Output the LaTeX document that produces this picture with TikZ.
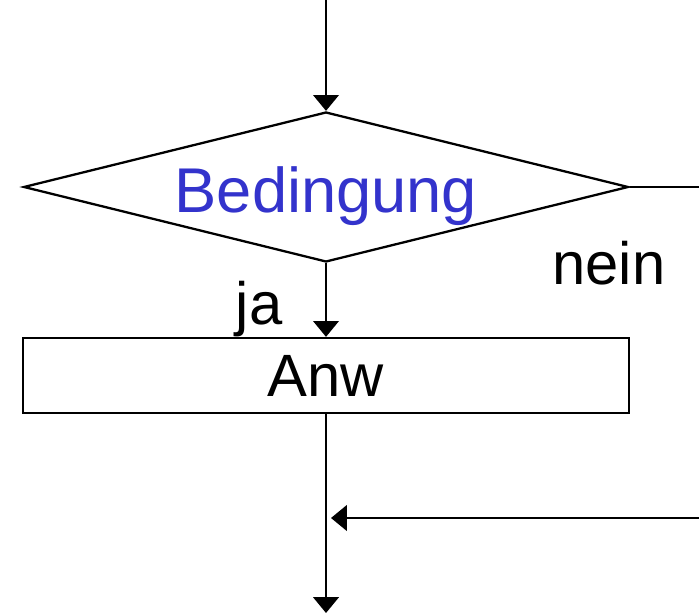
\documentclass[tikz,border=0pt]{standalone}
\usepackage{fontspec}
\setmainfont{Liberation Sans}
\usepackage{tikz}
\usetikzlibrary{arrows.meta, shapes.geometric}
\definecolor{condblue}{RGB}{51,51,204}
\tikzset{
    flowline/.style={line width=1.3pt},
    flowarrow/.style={flowline, -{Triangle[length=9pt,width=14.5pt]}},
    bigtext/.style={font=\fontsize{34}{40}\selectfont},
}

\begin{document}
\begin{tikzpicture}[x=0.02cm, y=-0.02cm]
        \useasboundingbox (0,0) rectangle (699,614);
        \coordinate (start) at (326,0);
        \node[diamond, draw, flowline, minimum width=12.1cm, minimum height=3cm, inner sep=0pt] at (326,187) (cond) {};
        \node[text=condblue, anchor=base, font=\fontsize{36}{43}\selectfont] at (326,213) (condtext) {Bedingung};
        \node[rectangle, draw, flowline, minimum width=12.12cm, minimum height=1.5cm, inner sep=0pt, bigtext] at (326,375.5) (anw) {Anw};
        \node[bigtext, anchor=base] at (259,325) (ja) {ja};
        \node[bigtext, anchor=base] at (609,285) (nein) {nein};
        \coordinate (exit) at (699,187);
        \coordinate (entry) at (699,518);
        \coordinate (join) at (331,518);
        \coordinate (finish) at (326,613);

        \draw [flowarrow] (start) -- (cond.north);
        \draw [flowline] (cond.east) -- (exit);
        \draw [flowarrow] (cond.south) -- (anw.north);
        \draw [flowarrow] (anw.south) -- (finish);
        \draw [flowarrow] (entry) -- (join);
    \end{tikzpicture}
\end{document}
